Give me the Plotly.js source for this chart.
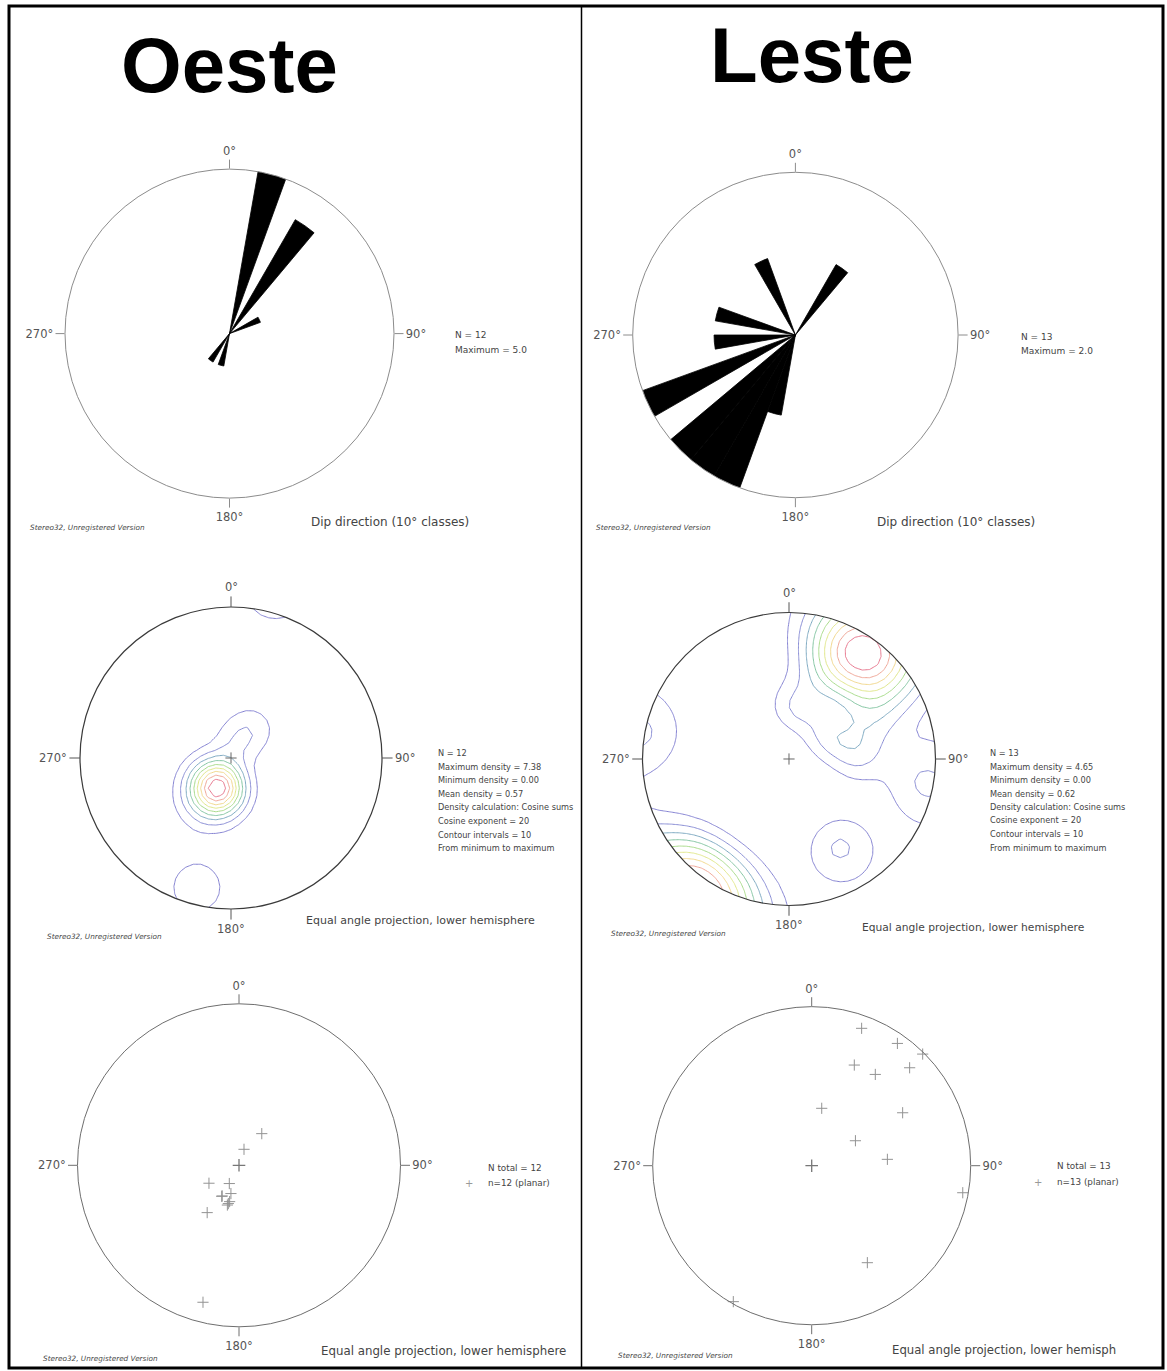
<!DOCTYPE html>
<html>
<head>
<meta charset="utf-8">
<script src="https://cdn.plot.ly/plotly-3.0.1.min.js"></script>
<style>html,body{margin:0;padding:0;background:#fff;}</style>
</head>
<body>
<div id="chart" style="width:1167px;height:1371px;"></div>
<script>
// ---- Rose diagrams: dip direction, 10° classes (class centre, count) ----
const roseOesteDir   = [15, 35, 65, 195, 215];
const roseOesteCount = [5, 4, 1, 1, 1];
const roseOesteMax   = 5.0;
const roseLesteDir   = [35, 195, 205, 215, 225, 245, 265, 285, 335];
const roseLesteCount = [1, 1, 2, 2, 2, 2, 1, 1, 1];
const roseLesteMax   = 2.0;

// ---- Poles to planes on the equal-angle net (east, north; net radius = 1) ----
const poleOesteX = [0.141, 0.031, -0.186, -0.060, -0.107, -0.104, -0.050, -0.066, -0.058, -0.072, -0.197, -0.223];
const poleOesteY = [0.196, 0.099, -0.111, -0.113, -0.192, -0.190, -0.175, -0.237, -0.225, -0.246, -0.293, -0.848];
const poleLesteX = [0.314, 0.539, 0.698, 0.268, 0.400, 0.616, 0.063, 0.572, 0.275, 0.476, 0.950, 0.350, -0.493];
const poleLesteY = [0.864, 0.769, 0.702, 0.633, 0.574, 0.616, 0.361, 0.333, 0.157, 0.040, -0.170, -0.610, -0.855];

// ---- Density settings ----
const maxDensityOeste = 7.38;
const maxDensityLeste = 4.65;
const cosineExponent = 20;
const contourIntervals = 10;

// ---- Net tick labels ----
const netTicks = [0, 90, 180, 270];
const netTickText = ['0°', '90°', '180°', '270°'];

// ---- Side texts ----
const statsOeste = ['N = 12', 'Maximum density = 7.38', 'Minimum density = 0.00', 'Mean density = 0.57',
  'Density calculation: Cosine sums', 'Cosine exponent = 20', 'Contour intervals = 10', 'From minimum to maximum'];
const statsLeste = ['N = 13', 'Maximum density = 4.65', 'Minimum density = 0.00', 'Mean density = 0.62',
  'Density calculation: Cosine sums', 'Cosine exponent = 20', 'Contour intervals = 10', 'From minimum to maximum'];

const W = 1167, H = 1371;
const FONT = 'DejaVu Sans, Verdana, sans-serif';
const TICK_SIZE = 11.5;
const px = x => x / W;
const py = y => 1 - y / H;

// lower-hemisphere unit vector for a point of the equal-angle (stereographic) net
function toVec(x, y) {
  const r2 = x * x + y * y, d = 1 + r2;
  return [2 * x / d, 2 * y / d, (1 - r2) / d];
}

// cosine-sum density on a regular grid, scaled to the reported maximum
function densityGrid(xs, ys, maxD) {
  const n = 43, lim = 1.05;
  const g = [];
  for (let i = 0; i < n; i++) g.push(-lim + 2 * lim * i / (n - 1));
  const poles = xs.map((x, i) => toVec(x, ys[i]));
  const z = [];
  let peak = 0;
  for (let j = 0; j < n; j++) {
    const row = [];
    for (let i = 0; i < n; i++) {
      const v = toVec(g[i], g[j]);
      let s = 0;
      for (const p of poles) {
        const c = Math.abs(v[0] * p[0] + v[1] * p[1] + v[2] * p[2]);
        s += Math.pow(c, cosineExponent);
      }
      row.push(s);
      if (g[i] * g[i] + g[j] * g[j] <= 1 && s > peak) peak = s;
    }
    z.push(row);
  }
  const k = maxD / peak;
  return { g, z: z.map(r => r.map(v => v * k)) };
}

const contourScale = [
  [0.0, '#8583d2'], [0.15, '#8a8fd4'], [0.3, '#78b6b8'], [0.45, '#8fd48c'],
  [0.6, '#dce88a'], [0.72, '#f2e48a'], [0.85, '#f2b09a'], [1.0, '#e8788f']
];

function contourTrace(xs, ys, maxD, xa, ya) {
  const d = densityGrid(xs, ys, maxD);
  const step = maxD / contourIntervals;
  return {
    type: 'contour', x: d.g, y: d.g, z: d.z, xaxis: xa, yaxis: ya,
    zmin: 0, zmax: maxD, autocontour: false,
    contours: { start: step, end: maxD - step * 0.5, size: step, coloring: 'lines' },
    line: { width: 1, smoothing: 0 },
    colorscale: contourScale, showscale: false, hoverinfo: 'skip'
  };
}

function centreCross(xa, ya) {
  return { type: 'scatter', x: [0], y: [0], xaxis: xa, yaxis: ya, mode: 'markers',
    marker: { symbol: 'cross-thin', size: 8, line: { width: 1, color: '#666' } }, hoverinfo: 'skip' };
}

function roseTrace(dir, count, sub) {
  return { type: 'barpolar', theta: dir, r: count, width: dir.map(() => 10), subplot: sub,
    marker: { color: '#000', line: { width: 0.8, color: '#000' } }, hoverinfo: 'skip' };
}

function poleTrace(xs, ys, sub) {
  return { type: 'scatterpolar', subplot: sub, mode: 'markers',
    r: xs.map((x, i) => Math.hypot(x, ys[i])),
    theta: xs.map((x, i) => Math.atan2(x, ys[i]) * 180 / Math.PI),
    marker: { symbol: 'cross-thin', size: 8, line: { width: 1, color: '#939393' } }, hoverinfo: 'skip' };
}

function poleCentre(sub) {
  return { type: 'scatterpolar', subplot: sub, mode: 'markers', r: [0], theta: [0],
    marker: { symbol: 'cross-thin', size: 9, line: { width: 1.3, color: '#777' } }, hoverinfo: 'skip' };
}

function polarCfg(cx, cy, R, rmax, lineColor) {
  return {
    domain: { x: [px(cx - R), px(cx + R)], y: [py(cy + R), py(cy - R)] },
    bgcolor: 'rgba(0,0,0,0)', bargap: 0,
    radialaxis: { visible: false, range: [0, rmax] },
    angularaxis: {
      rotation: 90, direction: 'clockwise', tickmode: 'array',
      tickvals: netTicks, ticktext: netTickText,
      ticks: 'outside', ticklen: 9, tickwidth: 1, tickcolor: lineColor,
      showgrid: false, showline: true, linecolor: lineColor, linewidth: 1,
      tickfont: { family: FONT, size: TICK_SIZE, color: '#555' }
    }
  };
}

const PAD = 1.12;
function cartAxes(cx, cy, R) {
  return {
    x: { domain: [px(cx - PAD * R), px(cx + PAD * R)], range: [-PAD, PAD], visible: false, fixedrange: true },
    y: { domain: [py(cy + PAD * R), py(cy - PAD * R)], range: [-PAD, PAD], visible: false, fixedrange: true }
  };
}

// white mask outside the primitive circle, so contours stay inside the net
function maskPath() {
  let p = 'M-1.3,-1.3L1.3,-1.3L1.3,1.3L-1.3,1.3Z';
  const n = 180;
  for (let k = 0; k <= n; k++) {
    const a = 2 * Math.PI * k / n;
    p += (k ? 'L' : 'M') + Math.cos(a).toFixed(5) + ',' + Math.sin(a).toFixed(5);
  }
  return p + 'Z';
}

function netShapes(xa, ya) {
  const s = [
    { type: 'path', xref: xa, yref: ya, path: maskPath(), fillcolor: '#fff', fillrule: 'evenodd',
      line: { width: 0 }, layer: 'above' },
    { type: 'circle', xref: xa, yref: ya, x0: -1, y0: -1, x1: 1, y1: 1,
      line: { color: '#3a3a3a', width: 1.2 }, layer: 'above' }
  ];
  const t = 1.07;
  [[0, 1, 0, t], [1, 0, t, 0], [0, -1, 0, -t], [-1, 0, -t, 0]].forEach(q => {
    s.push({ type: 'line', xref: xa, yref: ya, x0: q[0], y0: q[1], x1: q[2], y1: q[3],
      line: { color: '#555', width: 1 }, layer: 'above' });
  });
  return s;
}

function netLabels(xa, ya) {
  const f = { family: FONT, size: TICK_SIZE, color: '#555' };
  const t = 1.07;
  return [
    { xref: xa, yref: ya, x: 0, y: t, text: netTickText[0], showarrow: false, yanchor: 'bottom', font: f },
    { xref: xa, yref: ya, x: t, y: 0, text: netTickText[1], showarrow: false, xanchor: 'left', font: f },
    { xref: xa, yref: ya, x: 0, y: -t, text: netTickText[2], showarrow: false, yanchor: 'top', font: f },
    { xref: xa, yref: ya, x: -t, y: 0, text: netTickText[3], showarrow: false, xanchor: 'right', font: f }
  ];
}

function txt(x, y, text, size, opts) {
  return Object.assign({ xref: 'paper', yref: 'paper', x: px(x), y: py(y), text, showarrow: false,
    xanchor: 'left', yanchor: 'middle', font: { family: FONT, size, color: '#444' } }, opts || {});
}

function lines(x, y0, dy, arr, size) {
  return arr.map((s, i) => txt(x, y0 + i * dy, s, size));
}

const stereoTag = 'Stereo32, Unregistered Version';
const tagFont = { family: FONT, size: 7.3, color: '#4a4a4a', style: 'italic' };
const titleFont = { family: 'Liberation Sans, Arial, sans-serif', size: 78, color: '#000' };

const cO = cartAxes(231, 758, 151);
const cL = cartAxes(789, 759, 146.5);

const data = [
  roseTrace(roseOesteDir, roseOesteCount, 'polar'),
  roseTrace(roseLesteDir, roseLesteCount, 'polar2'),
  contourTrace(poleOesteX, poleOesteY, maxDensityOeste, 'x', 'y'),
  centreCross('x', 'y'),
  contourTrace(poleLesteX, poleLesteY, maxDensityLeste, 'x2', 'y2'),
  centreCross('x2', 'y2'),
  poleCentre('polar3'),
  poleTrace(poleOesteX, poleOesteY, 'polar3'),
  poleCentre('polar4'),
  poleTrace(poleLesteX, poleLesteY, 'polar4')
];

const annotations = [
  txt(229.5, 65, '<b>Oeste</b>', 78, { xanchor: 'center', font: titleFont }),
  txt(812, 55, '<b>Leste</b>', 78, { xanchor: 'center', font: titleFont }),

  // rose diagrams
  ...lines(453, 335, 15, ['N = 12', 'Maximum = ' + roseOesteMax.toFixed(1)], 9),
  txt(309, 522, 'Dip direction (10° classes)', 12),
  txt(28, 528, stereoTag, 7.3, { font: tagFont }),
  ...lines(1019, 337, 14, ['N = 13', 'Maximum = ' + roseLesteMax.toFixed(1)], 9),
  txt(875, 522, 'Dip direction (10° classes)', 12),
  txt(594, 527, stereoTag, 7.3, { font: tagFont }),

  // density plots
  ...netLabels('x', 'y'),
  ...lines(436, 753, 13.6, statsOeste, 8.2),
  txt(304, 920, 'Equal angle projection, lower hemisphere', 11),
  txt(45, 936, stereoTag, 7.3, { font: tagFont }),
  ...netLabels('x2', 'y2'),
  ...lines(988, 753, 13.5, statsLeste, 8.2),
  txt(860, 927, 'Equal angle projection, lower hemisphere', 10.7),
  txt(609, 933, stereoTag, 7.3, { font: tagFont }),

  // pole plots
  ...lines(486, 1168, 15, ['N total = 12', 'n=12 (planar)'], 8.8),
  txt(469, 1183, '+', 10, { xanchor: 'center', font: { family: FONT, size: 10, color: '#999' } }),
  txt(319, 1351, 'Equal angle projection, lower hemisphere', 11.8),
  txt(41, 1358, stereoTag, 7.3, { font: tagFont }),
  ...lines(1055, 1166, 16, ['N total = 13', 'n=13 (planar)'], 8.8),
  txt(1038, 1182, '+', 10, { xanchor: 'center', font: { family: FONT, size: 10, color: '#999' } }),
  txt(890, 1350, 'Equal angle projection, lower hemisph', 11.7),
  txt(616, 1355, stereoTag, 7.3, { font: tagFont })
];

const shapes = [
  ...netShapes('x', 'y'),
  ...netShapes('x2', 'y2'),
  { type: 'rect', xref: 'paper', yref: 'paper', x0: px(9), x1: px(1163), y0: py(1368), y1: py(6),
    line: { color: '#000', width: 3 }, fillcolor: 'rgba(0,0,0,0)' },
  { type: 'line', xref: 'paper', yref: 'paper', x0: px(581.5), x1: px(581.5), y0: py(1368), y1: py(6),
    line: { color: '#000', width: 1.5 } }
];

const layout = {
  width: W, height: H, margin: { l: 0, r: 0, t: 0, b: 0 },
  paper_bgcolor: '#fff', plot_bgcolor: 'rgba(0,0,0,0)', showlegend: false,
  polar: polarCfg(229.5, 333.6, 164.5, roseOesteMax, '#8c8c8c'),
  polar2: polarCfg(795.4, 335, 162.7, roseLesteMax, '#8c8c8c'),
  polar3: polarCfg(239, 1165.3, 161.5, 1, '#6e6e6e'),
  polar4: polarCfg(811.7, 1165.7, 159, 1, '#6e6e6e'),
  xaxis: cO.x, yaxis: cO.y,
  xaxis2: cL.x, yaxis2: cL.y,
  annotations, shapes
};

Plotly.newPlot('chart', data, layout, { staticPlot: true, displayModeBar: false });
</script>
</body>
</html>
